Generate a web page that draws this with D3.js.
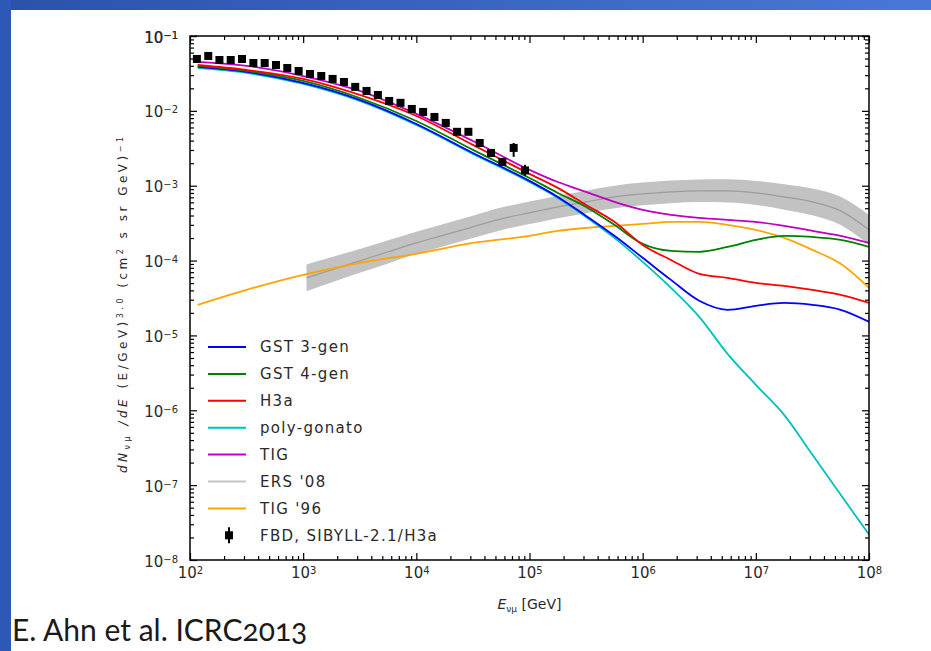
<!DOCTYPE html>
<html>
<head>
<meta charset="utf-8">
<script src="https://cdn.jsdelivr.net/npm/d3@7"></script>
<style>
  body { margin: 0; background: #fff; }
  svg { display: block; }
  .tick text { font-family: "DejaVu Sans", sans-serif; font-size: 15px; fill: #2a2a2a; }
  .leg text { font-family: "DejaVu Sans", sans-serif; font-size: 15px; letter-spacing: 1.3px; fill: #2a2a2a; }
</style>
</head>
<body>
<div id="chart"></div>
<script>
// energy grid the model curves were read at (GeV)
var modelE = [117, 316, 1e3, 3162, 1e4, 31623, 1e5, 177828, 316228, 562341, 1e6,
  1778279, 3162278, 5623413, 1e7, 17782794, 31622777, 56234133, 1e8];

// E^3-weighted conventional numu flux per model
var gst3 = [0.0386, 0.0331, 0.0236, 0.0140, 0.00668, 0.00274, 0.00116, 0.000708, 0.000395, 0.000214,
  0.000109, 0.0000552, 0.0000290, 0.0000220, 0.0000249, 0.0000272, 0.0000256, 0.0000220, 0.0000152];
var gst4 = [0.0398, 0.0341, 0.0251, 0.01486, 0.00733, 0.00301, 0.00127, 0.000801, 0.000521, 0.000300,
  0.000167, 0.000135, 0.000131, 0.000152, 0.000189, 0.000214, 0.000207, 0.000189, 0.000152];
var h3a = [0.041, 0.0352, 0.0267, 0.0163, 0.00855, 0.00351, 0.00144, 0.000935, 0.000554, 0.000329,
  0.000162, 0.000102, 0.0000664, 0.0000587, 0.0000504, 0.0000459, 0.0000406, 0.0000348, 0.0000272];
var polyGonato = [0.0374, 0.0321, 0.0229, 0.01356, 0.00648, 0.00266, 0.00112, 0.000687, 0.000383, 0.000201,
  0.0000961, 0.0000432, 0.0000177, 0.00000568, 0.00000219, 8.7e-7, 2.55e-7, 7.45e-8, 2.18e-8];
var tig = [0.045, 0.0398, 0.0292, 0.01845, 0.0091, 0.00396, 0.00163, 0.00112, 0.000826, 0.000608,
  0.000475, 0.000407, 0.000372, 0.000349, 0.000329, 0.000291, 0.000249, 0.000214, 0.000172];
var tig96 = [0.0000256, 0.0000406, 0.0000644, 0.0000931, 0.000123, 0.000172, 0.000214, 0.000249, 0.000273, 0.000291,
  0.000309, 0.000329, 0.000329, 0.000300, 0.000257, 0.000201, 0.000139, 0.0000904, 0.0000432];

// ERS '08 band (central line and edges)
var ersE = [1.07e3, 1778, 3162, 5623, 1e4, 17783, 31623, 56234, 1e5, 177828, 316228, 562341,
  1e6, 1778279, 3162278, 5623413, 1e7, 17782794, 31622777, 56234133, 1e8];
var ersMid = [5.87e-5, 7.52e-5, 9.91e-5, 1.31e-4, 1.72e-4, 2.20e-4, 2.82e-4, 3.61e-4, 4.34e-4, 5.21e-4, 6.08e-4,
  7.08e-4, 7.77e-4, 8.26e-4, 8.53e-4, 8.53e-4, 8.01e-4, 7.08e-4, 6.08e-4, 4.61e-4, 2.57e-4];
var ersLow = [3.88e-5, 5.08e-5, 6.86e-5, 9.17e-5, 1.22e-4, 1.56e-4, 2.00e-4, 2.55e-4, 3.07e-4, 3.69e-4, 4.30e-4,
  5.01e-4, 5.50e-4, 5.85e-4, 6.04e-4, 5.97e-4, 5.54e-4, 4.79e-4, 4.02e-4, 2.98e-4, 1.62e-4];
var ersHigh = [8.89e-5, 1.11e-4, 1.43e-4, 1.87e-4, 2.43e-4, 3.11e-4, 3.98e-4, 5.10e-4, 6.13e-4, 7.36e-4, 8.59e-4,
  1.00e-3, 1.10e-3, 1.17e-3, 1.21e-3, 1.22e-3, 1.16e-3, 1.05e-3, 9.21e-4, 7.14e-4, 4.07e-4];

// FBD, SIBYLL-2.1/H3a points
var fbdE = [115, 145, 182, 229, 288, 363, 457, 575, 724, 912, 1148, 1445, 1820, 2291, 2884,
  3631, 4571, 5754, 7244, 9120, 11482, 14454, 18197, 22909, 28840, 36308, 45709, 57544, 72444, 91201];
var fbdFlux = [0.0493, 0.0541, 0.0478, 0.0478, 0.0493, 0.0436, 0.0436, 0.0410, 0.0374, 0.0341,
  0.0311, 0.0292, 0.0267, 0.0243, 0.0209, 0.01845, 0.0163, 0.01356, 0.0128, 0.0106,
  0.00967, 0.00829, 0.00690, 0.00525, 0.00525, 0.00372, 0.00274, 0.00208, 0.0032, 0.0016];
var fbdErrLow = [null, null, null, null, null, null, null, null, null, null, null, null, null, null, null,
  null, null, null, null, null, null, null, null, null, null, null, null, null, 0.00243, 0.00136];
var fbdErrHigh = [null, null, null, null, null, null, null, null, null, null, null, null, null, null, null,
  null, null, null, null, null, null, null, null, null, null, null, null, null, 0.00372, 0.0019];

// tick exponents
var xTickExp = ["2", "3", "4", "5", "6", "7", "8"];
var yTickExp = ["\u22128", "\u22127", "\u22126", "\u22125", "\u22124", "\u22123", "\u22122", "\u22121"];

var legendNames = ["GST 3-gen", "GST 4-gen", "H3a", "poly-gonato", "TIG", "ERS '08", "TIG '96", "FBD, SIBYLL-2.1/H3a"];

var svgWidth = 931;
var svgHeight = 651;
var margin = { top: 36, right: 62, bottom: 91, left: 190 };
var width = svgWidth - margin.left - margin.right;
var height = svgHeight - margin.top - margin.bottom;

var svg = d3.select("#chart").append("svg")
  .attr("width", svgWidth)
  .attr("height", svgHeight);

// slide frame (blue strips on top and left)
var defs = svg.append("defs");
var grad = defs.append("linearGradient").attr("id", "bluebar");
grad.append("stop").attr("offset", "0%").attr("stop-color", "#2a52ab");
grad.append("stop").attr("offset", "100%").attr("stop-color", "#4878d6");
svg.append("rect").attr("x", 0).attr("y", 0).attr("width", svgWidth).attr("height", 10).attr("fill", "url(#bluebar)");
svg.append("rect").attr("x", 0).attr("y", 0).attr("width", 11).attr("height", svgHeight).attr("fill", "#2d58b6");

defs.append("clipPath").attr("id", "plotclip")
  .append("rect").attr("width", width).attr("height", height);

var chartGroup = svg.append("g")
  .attr("transform", `translate(${margin.left}, ${margin.top})`);

var xScale = d3.scaleLog().domain([1e2, 1e8]).range([0, width]);
var yScale = d3.scaleLog().domain([1e-8, 1e-1]).range([height, 0]);

var xMajor = xTickExp.map(e => Math.pow(10, +e));
var yMajor = d3.range(-8, 0).map(e => Math.pow(10, e));
var xMinor = [];
d3.range(2, 8).forEach(function (d) { for (var m = 2; m < 10; m++) xMinor.push(m * Math.pow(10, d)); });
var yMinor = [];
d3.range(-8, -1).forEach(function (d) { for (var m = 2; m < 10; m++) yMinor.push(m * Math.pow(10, d)); });

function tickStyle(g) {
  g.select(".domain").remove();
  g.selectAll(".tick line").attr("stroke", "#000").attr("stroke-width", 1.2);
}

// major + minor ticks on all four sides, pointing inwards
chartGroup.append("g").attr("transform", `translate(0, ${height})`)
  .call(d3.axisBottom(xScale).tickValues(xMinor).tickSize(-4).tickFormat("")).call(tickStyle);
chartGroup.append("g")
  .call(d3.axisTop(xScale).tickValues(xMinor).tickSize(-4).tickFormat("")).call(tickStyle);
chartGroup.append("g")
  .call(d3.axisTop(xScale).tickValues(xMajor).tickSize(-7).tickFormat("")).call(tickStyle);
chartGroup.append("g")
  .call(d3.axisLeft(yScale).tickValues(yMinor).tickSize(-4).tickFormat("")).call(tickStyle);
chartGroup.append("g").attr("transform", `translate(${width}, 0)`)
  .call(d3.axisRight(yScale).tickValues(yMinor).tickSize(-4).tickFormat("")).call(tickStyle);
chartGroup.append("g").attr("transform", `translate(${width}, 0)`)
  .call(d3.axisRight(yScale).tickValues(yMajor.concat([1e-1])).tickSize(-7).tickFormat("")).call(tickStyle);

var xAxis = chartGroup.append("g").attr("transform", `translate(0, ${height})`)
  .call(d3.axisBottom(xScale).tickValues(xMajor).tickSize(-7).tickPadding(7).tickFormat(""))
  .call(tickStyle);
xAxis.selectAll(".tick text").each(function (d, i) {
  var t = d3.select(this);
  t.text("10");
  t.append("tspan").attr("baseline-shift", "45%").attr("font-size", "10px").text(xTickExp[i]);
});

var yAxis = chartGroup.append("g")
  .call(d3.axisLeft(yScale).tickValues(yMajor.concat([1e-1])).tickSize(-7).tickPadding(12).tickFormat(""))
  .call(tickStyle);
var yLabels = yTickExp.concat(["\u22121"]);
yAxis.selectAll(".tick text").attr("dy", "0.4em").each(function (d, i) {
  var t = d3.select(this);
  t.text("10");
  t.append("tspan").attr("baseline-shift", "45%").attr("font-size", "10px").text(yLabels[i]);
});

var plot = chartGroup.append("g").attr("clip-path", "url(#plotclip)");

// ERS '08 band
var ersData = ersE.map((e, i) => ({ e: e, mid: ersMid[i], lo: ersLow[i], hi: ersHigh[i] }));
plot.append("path")
  .datum(ersData)
  .attr("fill", "#c2c2c2")
  .attr("d", d3.area().curve(d3.curveMonotoneX)
    .x(d => xScale(d.e)).y0(d => yScale(d.lo)).y1(d => yScale(d.hi)));
plot.append("path")
  .datum(ersData)
  .attr("fill", "none")
  .attr("stroke", "#9c9c9c")
  .attr("stroke-width", 1.2)
  .attr("d", d3.line().curve(d3.curveMonotoneX).x(d => xScale(d.e)).y(d => yScale(d.mid)));

var series = [
  { name: "TIG '96", values: tig96, color: "#ffa500" },
  { name: "poly-gonato", values: polyGonato, color: "#00bfbf" },
  { name: "GST 3-gen", values: gst3, color: "#0000ff" },
  { name: "GST 4-gen", values: gst4, color: "#008000" },
  { name: "H3a", values: h3a, color: "#ff0000" },
  { name: "TIG", values: tig, color: "#bf00bf" }
];

var line = d3.line().curve(d3.curveMonotoneX)
  .x(d => xScale(d.e))
  .y(d => yScale(d.v));

plot.selectAll(".model")
  .data(series)
  .enter()
  .append("path")
  .classed("model", true)
  .attr("fill", "none")
  .attr("stroke", d => d.color)
  .attr("stroke-width", 1.8)
  .attr("d", d => line(modelE.map((e, i) => ({ e: e, v: d.values[i] }))));

// FBD points with error bars
var fbd = fbdE.map((e, i) => ({ e: e, v: fbdFlux[i], lo: fbdErrLow[i], hi: fbdErrHigh[i] }));
plot.selectAll(".err")
  .data(fbd.filter(d => d.lo !== null))
  .enter()
  .append("line")
  .attr("x1", d => xScale(d.e)).attr("x2", d => xScale(d.e))
  .attr("y1", d => yScale(d.lo)).attr("y2", d => yScale(d.hi))
  .attr("stroke", "#000").attr("stroke-width", 2);
plot.selectAll(".pt")
  .data(fbd)
  .enter()
  .append("rect")
  .attr("x", d => xScale(d.e) - 4)
  .attr("y", d => yScale(d.v) - 4)
  .attr("width", 8).attr("height", 8)
  .attr("fill", "#000");

// frame
chartGroup.append("rect")
  .attr("width", width).attr("height", height)
  .attr("fill", "none").attr("stroke", "#000").attr("stroke-width", 1.5);

// legend
var legendColors = ["#0000ff", "#008000", "#ff0000", "#00bfbf", "#bf00bf", "#c4c4c4", "#ffa500", null];
var legend = chartGroup.append("g").classed("leg", true).attr("transform", "translate(18, 311)");
var rows = legend.selectAll("g")
  .data(legendNames)
  .enter()
  .append("g")
  .attr("transform", (d, i) => `translate(0, ${i * 26.9})`);
rows.filter((d, i) => legendColors[i] !== null)
  .append("line")
  .attr("x1", 0).attr("x2", 38)
  .attr("stroke", (d, i) => legendColors[i])
  .attr("stroke-width", 2);
rows.filter((d, i) => legendColors[i] === null)
  .each(function () {
    var g = d3.select(this);
    g.append("line").attr("x1", 21).attr("x2", 21).attr("y1", -8).attr("y2", 8)
      .attr("stroke", "#000").attr("stroke-width", 2);
    g.append("rect").attr("x", 17).attr("y", -4).attr("width", 8).attr("height", 8).attr("fill", "#000");
  });
rows.append("text")
  .attr("x", 52)
  .attr("dy", "0.36em")
  .text(d => d);

// axis titles
var xTitle = chartGroup.append("text")
  .attr("x", width / 2)
  .attr("y", height + 49)
  .attr("text-anchor", "middle")
  .style("font-family", "DejaVu Sans, sans-serif")
  .style("font-size", "14px")
  .style("fill", "#2a2a2a");
xTitle.append("tspan").style("font-style", "italic").text("E");
xTitle.append("tspan").attr("baseline-shift", "-35%").attr("font-size", "9px").text("\u03bd\u03bc");
xTitle.append("tspan").text(" [GeV]");

var yTitle = svg.append("text")
  .attr("transform", "translate(127, 305) rotate(-90)")
  .attr("text-anchor", "middle")
  .attr("textLength", 336)
  .attr("lengthAdjust", "spacing")
  .style("font-family", "DejaVu Sans, sans-serif")
  .style("font-size", "12px")
  .style("fill", "#2a2a2a");
yTitle.append("tspan").style("font-style", "italic").text("dN");
yTitle.append("tspan").attr("baseline-shift", "-35%").attr("font-size", "8px").text("\u03bd\u03bc");
yTitle.append("tspan").style("font-style", "italic").text(" /dE");
yTitle.append("tspan").text(" (E/GeV)");
yTitle.append("tspan").attr("baseline-shift", "45%").attr("font-size", "8px").text("3.0");
yTitle.append("tspan").text("  (cm");
yTitle.append("tspan").attr("baseline-shift", "45%").attr("font-size", "8px").text("2");
yTitle.append("tspan").text(" s sr GeV)");
yTitle.append("tspan").attr("baseline-shift", "45%").attr("font-size", "8px").text("\u22121");

// slide caption
svg.append("text")
  .attr("x", 12)
  .attr("y", 641)
  .style("font-family", "Lato, sans-serif")
  .style("font-size", "30px")
  .style("font-variant-numeric", "oldstyle-nums")
  .style("fill", "#1a1a1a")
  .text("E. Ahn et al. ICRC2013");
</script>
</body>
</html>
